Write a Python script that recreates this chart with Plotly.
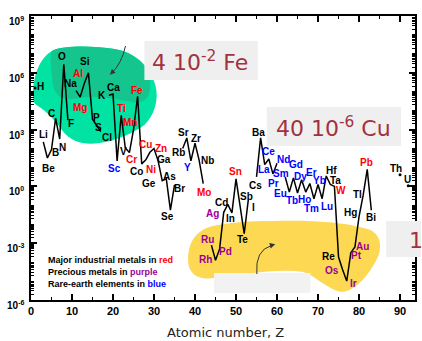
import math
import plotly.graph_objects as go

# ---------------- data ----------------
symbols = ["H","He","Li","Be","B","C","N","O","F","Ne","Na","Mg","Al","Si","P","S","Cl","Ar",
           "K","Ca","Sc","Ti","V","Cr","Mn","Fe","Co","Ni","Cu","Zn","Ga","Ge","As","Se","Br","Kr",
           "Rb","Sr","Y","Zr","Nb","Mo","Tc","Ru","Rh","Pd","Ag","Cd","In","Sn","Sb","Te","I","Xe",
           "Cs","Ba","La","Ce","Pr","Nd","Pm","Sm","Eu","Gd","Tb","Dy","Ho","Er","Tm","Yb","Lu",
           "Hf","Ta","W","Re","Os","Ir","Pt","Au","Hg","Tl","Pb","Bi","Po","At","Rn",
           "Fr","Ra","Ac","Th","Pa","U"]
atomic_number = list(range(1, 93))
# log10 of abundance (atoms per 10^6 atoms of Si); None = not plotted
log_abundance = [
    5.2, None, 2.35, 1.5, 1.95, 3.6, 2.5, 6.45, 3.5, None,          # 1-10
    5.06, 4.72, 5.43, 6.0, 3.55, 3.25, 2.9, None,                  # 11-18
    4.81, 4.88, 1.35, 3.76, 2.03, 1.79, 3.0, 4.76, 1.19, 1.4,      # 19-28
    1.8, 2.0, 1.35, 0.3, 0.4, -1.25, 0.08, None,                   # 29-36
    2.0, 2.56, 1.35, 2.28, 1.39, 0.15, None, -3.1, -3.9, -3.3,     # 37-46
    -1.37, -0.95, -1.4, 0.4, -1.0, -2.5, -0.7, None,               # 47-54
    0.5, 2.56, 1.15, 1.45, 0.66, 1.22, None, 0.5, -0.3, 0.45,      # 55-64
    -0.35, 0.35, -0.3, 0.15, -0.65, 0.1, -0.65,                    # 65-71
    0.55, 0.1, 0.0, -3.73, -4.4, -5.0, -3.5, -3.2, -1.6, -0.48,    # 72-81
    0.9, -1.26, None, None, None, None, None, None,                # 82-89
    0.62, None, 0.03,                                              # 90-92
]

red_metals = ["Mg","Al","Ti","Cr","Mn","Fe","Ni","Cu","Zn","Mo","Sn","W","Pb"]
precious_metals = ["Ru","Rh","Pd","Ag","Os","Ir","Pt","Au"]
rare_earths = ["Sc","Y","La","Ce","Pr","Nd","Sm","Eu","Gd","Tb","Dy","Ho","Er","Tm","Yb","Lu"]

y_tick_vals = [1e-6, 1e-3, 1, 1e3, 1e6, 1e9]
y_tick_text = ["10<sup>-6</sup>", "10<sup>-3</sup>", "10<sup>0</sup>",
               "10<sup>3</sup>", "10<sup>6</sup>", "10<sup>9</sup>"]
x_tick_vals = [0, 10, 20, 30, 40, 50, 60, 70, 80, 90]

# label placement (screen px offset of label from its point: dx right, dy down)
label_offset = {
    "H": (5, -1), "Li": (0, -7), "Be": (1, 10), "B": (4, 3), "C": (-4, -5), "N": (3, 8),
    "O": (-2, -8), "F": (3, 3), "Na": (-6, -7), "Mg": (0, 10), "Al": (-6, -10), "Si": (-3, -11),
    "P": (4, -2), "S": (2, 3), "Cl": (6, 6), "K": (-7, 0), "Ca": (0, -7), "Sc": (-3, 8),
    "Ti": (0, -7), "V": (-2, 4), "Cr": (2, 7), "Mn": (-4, -7), "Fe": (-1, -6), "Co": (-5, 8),
    "Ni": (5, 10), "Cu": (-4, -8), "Zn": (7, 0), "Ga": (6, -1), "Ge": (-13, 3), "As": (3, -2),
    "Se": (-3, 6), "Br": (5, 4), "Rb": (-4, 4), "Sr": (-3, -5), "Y": (-3, 7), "Zr": (1, -5),
    "Nb": (8, 0), "Mo": (1, 9), "Ru": (-4, -6), "Rh": (-10, -1), "Pd": (6, 3), "Ag": (-11, 1),
    "Cd": (-6, -2), "In": (-1, 6), "Sn": (-1, -7), "Sb": (6, -9), "Te": (-2, 6), "I": (5, 8),
    "Cs": (-1, 9), "Ba": (-2, -5), "La": (-1, 5), "Ce": (0, -7), "Pr": (1, 10), "Nd": (6, -4),
    "Sm": (-4, -3), "Eu": (-9, 1), "Gd": (3, -13), "Tb": (-6, 7), "Dy": (-1, -3), "Ho": (-1, 7),
    "Er": (2, -11), "Tm": (-2, 10), "Yb": (1, -4), "Lu": (5, 8), "Hf": (5, -5), "Ta": (5, -4),
    "W": (7, 4), "Re": (-10, -1), "Os": (-11, 1), "Ir": (7, 2), "Pt": (6, 3), "Au": (8, 0),
    "Hg": (-9, -4), "Tl": (-6, -1), "Pb": (-1, -7), "Bi": (0, 7), "Th": (-4, -6), "U": (-1, -6),
}

# ---------------- geometry helpers (pixel -> paper) ----------------
L, R, T, B = 31, 417, 16, 300
W_, H_ = 422, 341
def px(x): return (x - L) / (R - L)
def py(y): return (B - y) / (B - T)

def path(cmds):
    out = []
    for c in cmds:
        op, pts = c[0], c[1:]
        if op == "Z":
            out.append("Z")
        else:
            out.append(op + " " + " ".join(f"{px(a):.4f},{py(b):.4f}" for a, b in pts))
    return " ".join(out)

fig = go.Figure()

abund = [None if v is None else 10 ** v for v in log_abundance]
fig.add_trace(go.Scatter(x=atomic_number, y=abund, mode="lines",
                         line=dict(color="black", width=1.5), connectgaps=False,
                         hoverinfo="skip", showlegend=False))

iso_x, iso_y = [], []
for i, v in enumerate(abund):
    if v is None:
        continue
    prev_none = i == 0 or abund[i - 1] is None
    next_none = i == len(abund) - 1 or abund[i + 1] is None
    if prev_none and next_none:
        iso_x.append(atomic_number[i]); iso_y.append(v)
fig.add_trace(go.Scatter(x=iso_x, y=iso_y, mode="markers",
                         marker=dict(color="black", size=3), showlegend=False, hoverinfo="skip"))

shapes = []
def blob(cmds, color, layer="below"):
    shapes.append(dict(type="path", xref="paper", yref="paper", layer=layer,
                       line=dict(width=0), fillcolor=color, path=path(cmds)))

# green blob (outer, light)
blob([("M", (33, 95)), ("C", (33, 75), (40, 58), (52, 51)),
      ("C", (64, 45), (95, 46), (115, 49)), ("C", (135, 52), (150, 65), (156, 85)),
      ("C", (160, 100), (155, 115), (145, 125)), ("C", (135, 132), (120, 140), (100, 143)),
      ("C", (85, 145), (72, 143), (62, 130)), ("C", (55, 120), (45, 110), (38, 106)),
      ("C", (33, 103), (33, 100), (33, 95)), ("Z",)], "#00e3a2")
# green blob (inner, darker)
blob([("M", (52, 51)), ("C", (64, 45), (95, 46), (115, 49)),
      ("C", (132, 52), (146, 62), (150, 78)), ("C", (152, 92), (150, 100), (138, 103)),
      ("C", (120, 100), (100, 95), (80, 98)), ("C", (65, 101), (56, 98), (53, 85)),
      ("C", (51, 70), (50, 58), (52, 51)), ("Z",)], "#14c68e")
# yellow blob
blob([("M", (189, 262)), ("C", (188, 245), (195, 232), (210, 227)),
      ("C", (230, 222), (250, 221), (275, 221)), ("C", (310, 220), (350, 222), (372, 230)),
      ("C", (385, 236), (384, 252), (376, 264)), ("C", (368, 278), (355, 292), (343, 292)),
      ("C", (330, 290), (320, 278), (305, 272)), ("C", (280, 268), (240, 275), (215, 278)),
      ("C", (200, 280), (190, 275), (189, 262)), ("Z",)], "#fdd853")

def rect(x0, y0, x1, y1, color, layer="below"):
    shapes.append(dict(type="rect", xref="paper", yref="paper", layer=layer, line=dict(width=0),
                       fillcolor=color, x0=px(x0), x1=px(x1), y0=py(y1), y1=py(y0)))
rect(215, 273, 312, 293, "#f2f2f2")
rect(145, 41, 259, 80, "#efefef")
rect(268, 107, 403, 146, "#efefef")
rect(388, 221, 423, 257, "#efefef", layer="above")

# curved arrows with filled heads
for cmds in ([("M", (126, 46)), ("Q", (122, 64), (112, 73))],
             [("M", (258, 274)), ("Q", (256, 250), (273, 245.5))]):
    shapes.append(dict(type="path", xref="paper", yref="paper", layer="above",
                       line=dict(color="#333333", width=1), path=path(cmds)))
blob([("M", (110.3, 74.8)), ("L", (116.0, 72.8)), ("L", (112.3, 68.9)), ("Z",)],
     "#333333", layer="above")
blob([("M", (276.5, 244.3)), ("L", (271.9, 248.4)), ("L", (270.6, 243.1)), ("Z",)],
     "#333333", layer="above")

ann = []
lab_font = "Liberation Sans, Arial, sans-serif"
for z, s, v in zip(atomic_number, symbols, log_abundance):
    if v is None or s not in label_offset:
        continue
    dx, dy = label_offset[s]
    col = "#ff0000" if s in red_metals else "#990099" if s in precious_metals else \
          "#0000ff" if s in rare_earths else "black"
    ann.append(dict(x=z, y=v, xref="x", yref="y", text=f"<b>{s}</b>", showarrow=False,
                    xshift=dx, yshift=-dy, font=dict(family=lab_font, size=10, color=col)))

# y tick labels (placed on the log axis at each tick value)
for v, t in zip(y_tick_vals, y_tick_text):
    ann.append(dict(xref="paper", yref="y", x=px(26), y=math.log10(v), text=f"<b>{t}</b>",
                    showarrow=False, xanchor="right", yanchor="middle", yshift=-5,
                    font=dict(family=lab_font, size=10, color="black")))

big_font = dict(family="DejaVu Sans, sans-serif", size=22, color="#a2323e")
ann.append(dict(xref="paper", yref="paper", x=px(201), y=py(61), text="4 10<sup>-2</sup> Fe",
                showarrow=False, font=big_font, xanchor="center", yanchor="middle"))
ann.append(dict(xref="paper", yref="paper", x=px(335), y=py(127), text="40 10<sup>-6</sup> Cu",
                showarrow=False, font=big_font, xanchor="center", yanchor="middle"))
ann.append(dict(xref="paper", yref="paper", x=px(409), y=py(240), text="1",
                showarrow=False, font=big_font, xanchor="left", yanchor="middle"))

for txt, yy in [("Major industrial metals in <span style='color:#ff0000'>red</span>", 260),
                ("Precious metals in <span style='color:#990099'>purple</span>", 272),
                ("Rare-earth elements in <span style='color:#0000ff'>blue</span>", 284)]:
    ann.append(dict(xref="paper", yref="paper", x=px(46), y=py(yy), text=f"<b>{txt}</b>",
                    showarrow=False, xanchor="left", yanchor="middle",
                    font=dict(family=lab_font, size=9, color="black")))

ann.append(dict(xref="paper", yref="paper", x=px(227), y=py(332), text="Atomic number, Z",
                showarrow=False, xanchor="center", yanchor="middle",
                font=dict(family="DejaVu Sans, sans-serif", size=13, color="#222222")))

minor_y = [k * 10.0 ** d for d in range(-6, 9) for k in range(1, 10)
           if not (k == 1 and d % 3 == 0)]

fig.update_layout(
    width=W_, height=H_, margin=dict(l=L, r=W_ - R, t=T, b=H_ - B, pad=0),
    paper_bgcolor="white", plot_bgcolor="rgba(0,0,0,0)",
    shapes=shapes, annotations=ann, showlegend=False,
    xaxis=dict(range=[0, 93.65], tickvals=x_tick_vals, ticks="inside", ticklen=6, tickwidth=1.5,
               tickcolor="black", showline=True, linecolor="black", linewidth=2,
               mirror="allticks", showgrid=False, zeroline=False,
               tickfont=dict(family=lab_font, size=11, color="black", weight="bold"),
               minor=dict(dtick=5, tick0=0, ticks="inside", ticklen=3, tickcolor="black",
                          tickwidth=1, showgrid=False)),
    yaxis=dict(type="log", range=[-6, 9], tickvals=y_tick_vals, showticklabels=False,
               ticks="inside", ticklen=6, tickwidth=1.5, tickcolor="black",
               showline=True, linecolor="black", linewidth=2, mirror="allticks",
               showgrid=False, zeroline=False,
               minor=dict(tickvals=minor_y, ticks="inside", ticklen=3, tickcolor="black",
                          tickwidth=1, showgrid=False)),
)

fig.write_html("out.html", config={"displayModeBar": False},
               post_script="document.body.style.margin='0px';")
